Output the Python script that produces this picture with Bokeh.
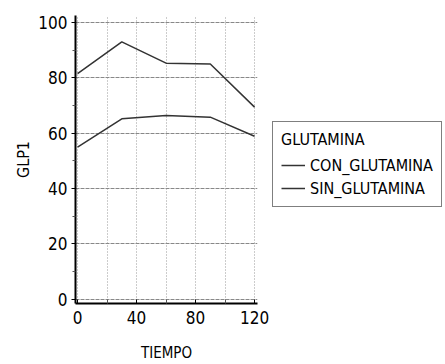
from bokeh.plotting import figure
from bokeh.models import Range1d, FixedTicker, Legend, LegendItem
from bokeh.layouts import row
from bokeh.embed import file_html
from bokeh.resources import INLINE

tiempo = [0, 30, 60, 90, 120]
con_glutamina = [81.5, 93.0, 85.3, 85.0, 69.4]
sin_glutamina = [55.0, 65.2, 66.4, 65.8, 58.9]
series_names = ["CON_GLUTAMINA", "SIN_GLUTAMINA"]
legend_title = "GLUTAMINA"
x_ticks = [0, 40, 80, 120]
x_minor = [20, 60, 100]
y_ticks = [0, 20, 40, 60, 80, 100]
y_minor = [10, 30, 50, 70, 90]

FONT = "DejaVu Sans Condensed"
LINE_COLOR = "#333333"

p = figure(width=270, height=364, output_backend="svg", toolbar_location=None,
           x_range=Range1d(-1.4, 122), y_range=Range1d(-1.5, 102.5),
           min_border_left=75, min_border_right=13, min_border_top=15, min_border_bottom=59)
p.outline_line_color = None
p.background_fill_color = "white"

p.line(tiempo, con_glutamina, line_color=LINE_COLOR, line_width=1.5)
p.line(tiempo, sin_glutamina, line_color=LINE_COLOR, line_width=1.5)

p.xaxis.ticker = FixedTicker(ticks=x_ticks, minor_ticks=x_minor)
p.yaxis.ticker = FixedTicker(ticks=y_ticks, minor_ticks=y_minor)

for ax in (p.xaxis[0], p.yaxis[0]):
    ax.axis_line_color = "black"
    ax.axis_line_width = 2
    ax.major_tick_line_color = "black"
    ax.minor_tick_line_color = "#555555"
    ax.major_label_text_font = FONT
    ax.major_label_text_font_size = "17px"
    ax.major_label_text_color = "black"
    ax.axis_label_text_font = FONT
    ax.axis_label_text_font_style = "normal"
    ax.axis_label_text_color = "black"

p.xaxis.axis_label_text_font_size = "15px"
p.yaxis.axis_label_text_font_size = "16px"
p.xaxis.major_tick_in = 4
p.xaxis.major_tick_out = 0
p.xaxis.minor_tick_in = 4
p.xaxis.minor_tick_out = 0
p.yaxis.major_tick_in = 0
p.yaxis.major_tick_out = 4
p.yaxis.minor_tick_in = 0
p.yaxis.minor_tick_out = 3
p.xaxis.axis_label = "TIEMPO"
p.yaxis.axis_label = "GLP1"
p.xaxis.major_label_standoff = 7
p.xaxis.axis_label_standoff = 17
p.yaxis.major_label_standoff = 4
p.yaxis.axis_label_standoff = 2

p.xgrid.grid_line_color = "#999999"
p.xgrid.grid_line_dash = "1 2"
p.xgrid.minor_grid_line_color = "#999999"
p.xgrid.minor_grid_line_dash = "1 2"
p.ygrid.grid_line_color = "#888888"
p.ygrid.grid_line_dash = "4 1"

# legend panel (its frame is aligned with the plot frame by the row layout)
q = figure(width=175, height=364, output_backend="svg", toolbar_location=None,
           x_range=Range1d(1000, 1001), y_range=Range1d(1000, 1001),
           min_border=0, x_axis_location=None, y_axis_location=None)
q.outline_line_color = None
q.grid.visible = False
d1 = q.line(tiempo, con_glutamina, line_color=LINE_COLOR, line_width=1.5)
d2 = q.line(tiempo, sin_glutamina, line_color=LINE_COLOR, line_width=1.5)

legend = Legend(items=[LegendItem(label=series_names[0], renderers=[d1]),
                       LegendItem(label=series_names[1], renderers=[d2])],
                location=(2, 96), title=legend_title,
                title_text_font=FONT, title_text_font_size="16px", title_text_font_style="normal",
                title_text_color="black", title_standoff=6,
                label_text_font=FONT, label_text_font_size="16px", label_text_color="black",
                label_height=20, glyph_height=20,
                border_line_color="black", border_line_width=1.5,
                glyph_width=24, label_standoff=5, spacing=3, padding=8,
                margin=0, background_fill_alpha=1.0)
q.add_layout(legend, "center")

layout = row(p, q)
open("out.html", "w").write(file_html(layout, INLINE))
